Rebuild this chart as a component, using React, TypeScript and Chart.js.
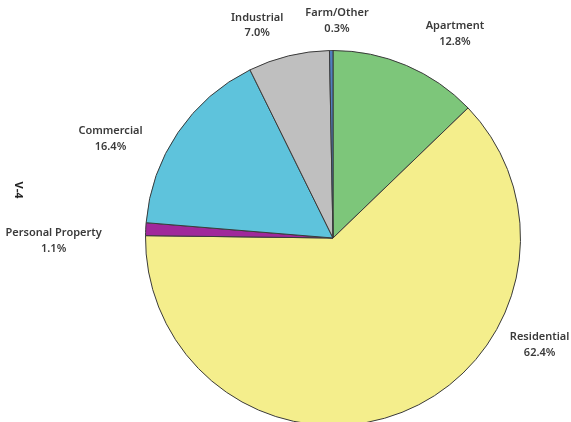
import React, { useEffect, useRef } from "react";
import { Chart, registerables } from "chart.js";

Chart.register(...registerables);

const categories = ["Apartment", "Residential", "Personal Property", "Commercial", "Industrial", "Farm/Other"];
const shares = [12.8, 62.4, 1.1, 16.4, 7.0, 0.3];
const percentLabels = ["12.8%", "62.4%", "1.1%", "16.4%", "7.0%", "0.3%"];
const sliceColors = ["#7dc67a", "#f4ee8c", "#a0289b", "#5ec3dc", "#bfbfbf", "#4f7fbf"];
// label placement: [angle in degrees clockwise from top, distance as a multiple of radius]
const labelPlacement: [number, number][] = [
  [30.8, 1.27],
  [117.3, 1.24],
  [269.5, 1.49],
  [294.1, 1.3],
  [340.4, 1.205],
  [1.05, 1.16],
];
const sideNote = "V-4";

const labelPlugin = {
  id: "sliceLabels",
  afterDatasetsDraw(chart: any) {
    const ctx = chart.ctx;
    const meta = chart.getDatasetMeta(0);
    ctx.save();
    ctx.fillStyle = "#3a3a3a";
    ctx.font = "600 11px 'Noto Sans'";
    ctx.textAlign = "center";
    ctx.textBaseline = "middle";
    meta.data.forEach((arc: any, i: number) => {
      const [deg, f] = labelPlacement[i];
      const a = (deg * Math.PI) / 180;
      const r = arc.outerRadius * f;
      const x = arc.x + r * Math.sin(a);
      const y = arc.y - r * Math.cos(a);
      ctx.fillText(categories[i], x, y - 7.5);
      ctx.fillText(percentLabels[i], x, y + 8);
    });
    ctx.translate(18, 190);
    ctx.rotate(Math.PI / 2);
    ctx.font = "bold 11px 'Noto Sans'";
    ctx.fillStyle = "#222";
    ctx.fillText(sideNote, 0, 0);
    ctx.restore();
  },
};

export default function App() {
  const ref = useRef<HTMLCanvasElement | null>(null);
  useEffect(() => {
    if (!ref.current) return;
    const chart = new Chart(ref.current, {
      type: "pie",
      data: {
        labels: categories,
        datasets: [
          {
            data: shares,
            backgroundColor: sliceColors,
            borderColor: "#3a3a3a",
            borderWidth: 1,
          },
        ],
      },
      options: {
        responsive: false,
        animation: false,
        devicePixelRatio: 1,
        layout: { padding: { left: 145, right: 50, top: 49, bottom: 33 } },
        plugins: {
          legend: { display: false },
          tooltip: { enabled: false },
        },
      },
      plugins: [labelPlugin],
    });
    return () => chart.destroy();
  }, []);
  return (
    <div style={{ position: "absolute", left: 0, top: 0, width: 571, height: 422, overflow: "hidden", background: "#fff" }}>
      <canvas ref={ref} width={571} height={460} style={{ width: 571, height: 460, display: "block" }} />
    </div>
  );
}
